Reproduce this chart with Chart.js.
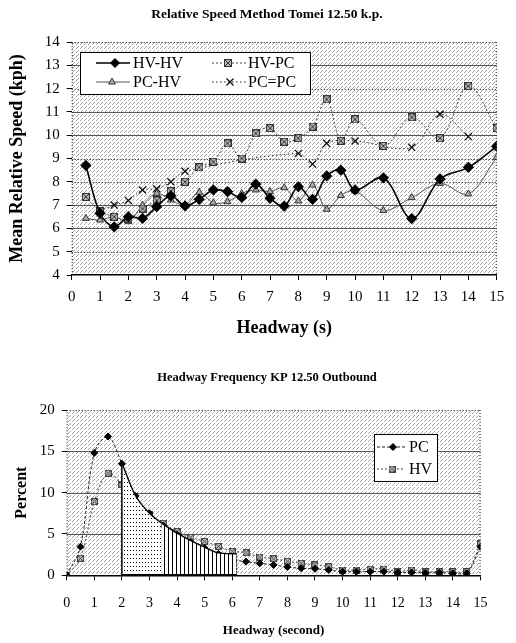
<!DOCTYPE html>
<html>
<head>
<meta charset="utf-8">
<script src="https://cdn.jsdelivr.net/npm/chart.js@4.4.0/dist/chart.umd.min.js"></script>
<style>
html, body { margin: 0; padding: 0; background: #fff; }
#wrapSpeed { position: absolute; left: 0; top: 0; width: 516px; height: 345px; }
#wrapFreq { position: absolute; left: 0; top: 345px; width: 516px; height: 298px; }
</style>
</head>
<body>
<div id="wrapSpeed"><canvas id="chartSpeed"></canvas></div>
<div id="wrapFreq"><canvas id="chartFreq"></canvas></div>
<script>
// --- top chart: relative speed by headway ---
const speedHeadway = [0.5, 1, 1.5, 2, 2.5, 3, 3.5, 4, 4.5, 5, 5.5, 6, 6.5, 7, 7.5, 8, 8.5, 9, 9.5, 10, 11, 12, 13, 14, 15];
const speedHvHv = [8.7, 6.65, 6.07, 6.5, 6.43, 6.93, 7.4, 6.97, 7.25, 7.65, 7.58, 7.33, 7.9, 7.29, 6.96, 7.79, 7.25, 8.25, 8.5, 7.65, 8.17, 6.42, 8.12, 8.62, 9.52];
const speedHvPc = [7.35, 6.75, 6.5, 6.4, 6.85, 7.2, 7.6, 8.0, 8.62, 8.86, 9.65, 9.0, 10.08, 10.3, 9.72, 9.87, 10.37, 11.54, 9.76, 10.68, 9.54, 10.77, 9.87, 12.11, 10.3];
const speedPcHv = [6.43, 6.36, 6.5, 6.29, 7.0, 7.5, 7.22, 7.0, 7.55, 7.1, 7.15, 7.5, 7.65, 7.58, 7.75, 7.18, 7.86, 6.82, 7.41, 7.6, 6.77, 7.32, 7.93, 7.48, 9.05];
const speedPcPc = [null, 6.75, 7.0, 7.2, 7.65, 7.7, 8.0, 8.45, null, null, null, null, null, null, null, 9.22, 8.76, 9.65, null, 9.75, null, 9.48, 10.9, 9.94, null];

// --- bottom chart: headway frequency ---
const freqHeadway = [0, 0.5, 1, 1.5, 2, 2.5, 3, 3.5, 4, 4.5, 5, 5.5, 6, 6.5, 7, 7.5, 8, 8.5, 9, 9.5, 10, 10.5, 11, 11.5, 12, 12.5, 13, 13.5, 14, 14.5, 15];
const freqPc = [0, 3.46, 14.8, 16.8, 13.5, 9.6, 7.5, 6.0, 4.9, 4.0, 3.3, 2.6, 1.9, 1.65, 1.45, 1.25, 1.0, 0.85, 0.78, 0.64, 0.44, 0.44, 0.44, 0.44, 0.35, 0.35, 0.3, 0.3, 0.25, 0.24, 3.46];
const freqHv = [0, 2.06, 8.9, 12.35, 10.93, 8.8, 7.3, 6.3, 5.3, 4.6, 4.1, 3.5, 2.9, 2.75, 2.2, 2.0, 1.7, 1.45, 1.25, 1.04, 0.64, 0.64, 0.76, 0.76, 0.44, 0.64, 0.44, 0.44, 0.44, 0.44, 3.8];
const shadeDotHeadway = [2, 2.5, 3, 3.44];
const shadeDotPct = [13.6, 9.6, 7.5, 6.3];
const shadeBarHeadway = [3.44, 4, 4.5, 5, 5.5, 6.16];
const shadeBarPct = [6.3, 5.1, 4.2, 3.4, 2.7, 2.6];

const FONT = "'Liberation Serif', 'Times New Roman', serif";
const pts = (xs, ys) => xs.map((x, i) => ({ x: x, y: ys[i] }));

function tile(w, h, draw) {
    const c = document.createElement('canvas');
    c.width = w; c.height = h;
    const g = c.getContext('2d');
    draw(g);
    return c;
}

// small hatched square marker
const hatchMark = tile(8, 8, g => {
    g.fillStyle = '#b8b8b8'; g.fillRect(0, 0, 8, 8);
    g.strokeStyle = '#333'; g.lineWidth = 1;
    g.strokeRect(0.5, 0.5, 7, 7);
    g.beginPath(); g.moveTo(0, 0); g.lineTo(8, 8); g.moveTo(8, 0); g.lineTo(0, 8); g.stroke();
});
const hatchMarkSmall = tile(7, 7, g => {
    g.fillStyle = '#c0c0c0'; g.fillRect(0, 0, 7, 7);
    g.strokeStyle = '#444'; g.lineWidth = 1;
    g.strokeRect(0.5, 0.5, 6, 6);
    g.beginPath(); g.moveTo(0, 0); g.lineTo(7, 7); g.moveTo(7, 0); g.lineTo(0, 7); g.stroke();
});

const stippleTile = tile(4, 4, g => {
    g.fillStyle = '#fff'; g.fillRect(0, 0, 4, 4);
    g.fillStyle = '#a8a8a8';
    g.fillRect(0, 0, 1, 1); g.fillRect(2, 2, 1, 1); g.fillRect(1, 3, 1, 1);
});
const dotTile = tile(3, 4, g => {
    g.fillStyle = '#fff'; g.fillRect(0, 0, 3, 4);
    g.fillStyle = '#000'; g.fillRect(1, 1, 1, 1);
});
const barTile = tile(4, 4, g => {
    g.fillStyle = '#fff'; g.fillRect(0, 0, 4, 4);
    g.fillStyle = '#000'; g.fillRect(0, 0, 1, 4);
});

// stippled plot background + mixed solid / dotted horizontal grid
const plotDecor = {
    id: 'plotDecor',
    beforeDraw(chart, args, o) {
        const { ctx, chartArea: a } = chart;
        ctx.save();
        ctx.fillStyle = ctx.createPattern(stippleTile, 'repeat');
        ctx.fillRect(a.left, a.top, a.right - a.left, a.bottom - a.top);
        ctx.restore();
    },
    beforeDatasetsDraw(chart, args, o) {
        const { ctx, chartArea: a, scales: { y } } = chart;
        ctx.save();
        y.ticks.forEach(t => {
            const py = Math.round(y.getPixelForValue(t.value)) + 0.5;
            if (t.value === y.min) return;
            const solid = o.solid.includes(t.value);
            ctx.strokeStyle = solid ? '#555' : '#111';
            ctx.lineWidth = 1;
            ctx.setLineDash(solid ? [] : [1, 2]);
            ctx.beginPath(); ctx.moveTo(a.left, py); ctx.lineTo(a.right, py); ctx.stroke();
        });
        ctx.setLineDash([1, 2]);
        ctx.strokeStyle = '#111';
        ctx.beginPath();
        ctx.moveTo(a.left + 0.5, a.bottom); ctx.lineTo(a.left + 0.5, a.top);
        ctx.moveTo(a.right - 0.5, a.top); ctx.lineTo(a.right - 0.5, a.bottom);
        ctx.stroke();
        ctx.restore();
    }
};

const textTitle = {
    id: 'textTitle',
    afterDraw(chart, args, o) {
        const ctx = chart.ctx;
        ctx.save();
        ctx.font = o.font;
        ctx.fillStyle = '#000';
        ctx.textAlign = 'center';
        ctx.textBaseline = 'middle';
        ctx.fillText(o.text, o.x, o.y);
        ctx.restore();
    }
};

const boxLegend = {
    id: 'boxLegend',
    afterDatasetsDraw(chart, args, o) {
        const ctx = chart.ctx;
        const [bx, by, bw, bh] = o.box;
        ctx.save();
        ctx.fillStyle = '#fff';
        ctx.fillRect(bx, by, bw, bh);
        ctx.strokeStyle = '#000'; ctx.lineWidth = 1;
        ctx.strokeRect(bx + 0.5, by + 0.5, bw, bh);
        o.items.forEach(it => {
            const ds = chart.data.datasets[it.index];
            ctx.save();
            ctx.strokeStyle = ds.borderColor;
            ctx.lineWidth = ds.borderWidth;
            ctx.setLineDash(ds.borderDash || []);
            ctx.beginPath(); ctx.moveTo(it.line[0], it.y); ctx.lineTo(it.line[1], it.y); ctx.stroke();
            ctx.restore();
            ctx.save();
            ctx.fillStyle = ds.pointBackgroundColor || '#000';
            ctx.strokeStyle = ds.pointBorderColor || ds.borderColor;
            ctx.lineWidth = ds.pointBorderWidth || 1;
            Chart.helpers.drawPoint(ctx, { pointStyle: ds.pointStyle, radius: ds.pointRadius, borderWidth: ds.pointBorderWidth || 1, rotation: 0 }, it.mark, it.y);
            ctx.restore();
            ctx.fillStyle = '#000';
            ctx.font = o.font;
            ctx.textBaseline = 'middle';
            ctx.fillText(ds.label, it.text, it.y + 1);
        });
        ctx.restore();
    }
};

Chart.defaults.font.family = FONT;
Chart.defaults.color = '#000';

new Chart(document.getElementById('chartSpeed'), {
    type: 'line',
    data: {
        datasets: [
            { label: 'HV-HV', data: pts(speedHeadway, speedHvHv), borderColor: '#000', borderWidth: 1.6, tension: 0.35,
              pointStyle: 'rectRot', pointRadius: 4.5, pointBackgroundColor: '#000', pointBorderColor: '#000' },
            { label: 'HV-PC', data: pts(speedHeadway, speedHvPc), borderColor: '#444', borderWidth: 1, borderDash: [2, 2], tension: 0.35,
              pointStyle: hatchMark, pointRadius: 4 },
            { label: 'PC-HV', data: pts(speedHeadway, speedPcHv), borderColor: '#555', borderWidth: 1, tension: 0.35,
              pointStyle: 'triangle', pointRadius: 4, pointBackgroundColor: '#aaa', pointBorderColor: '#333' },
            { label: 'PC=PC', data: pts(speedHeadway, speedPcPc), borderColor: '#222', borderWidth: 1, borderDash: [1.5, 2.5], tension: 0.35,
              spanGaps: true, pointStyle: 'crossRot', pointRadius: 5, pointBorderWidth: 1.3, pointBorderColor: '#111' }
        ]
    },
    options: {
        responsive: true,
        maintainAspectRatio: false,
        animation: false,
        layout: { padding: { left: 0, right: 19.3, top: 42, bottom: 0 } },
        plugins: {
            legend: { display: false },
            tooltip: { enabled: false },
            textTitle: { text: 'Relative Speed Method Tomei 12.50 k.p.', x: 267, y: 15, font: 'bold 13.5px ' + FONT },
            plotDecor: { solid: [6, 7, 10, 11, 13] },
            boxLegend: {
                box: [80, 52, 230, 42],
                font: '16px ' + FONT,
                items: [
                    { index: 0, y: 63, line: [96, 130], mark: 115, text: 133 },
                    { index: 1, y: 63, line: [212, 246], mark: 228, text: 248 },
                    { index: 2, y: 82, line: [96, 130], mark: 112, text: 133 },
                    { index: 3, y: 82, line: [212, 246], mark: 230, text: 248 }
                ]
            }
        },
        scales: {
            x: {
                type: 'linear', min: 0, max: 15,
                afterFit: s => { s.height = 70; },
                ticks: { stepSize: 1, padding: 8, font: { size: 15 }, maxRotation: 0 },
                grid: { drawOnChartArea: false, tickLength: 5, color: '#000' },
                border: { color: '#000', width: 1.5 },
                title: { display: true, text: 'Headway (s)', font: { size: 18, weight: 'bold' }, padding: { top: 0, bottom: 6 } }
            },
            y: {
                min: 4, max: 14,
                afterFit: s => { s.width = 71.7; },
                ticks: { stepSize: 1, padding: 7, font: { size: 15 } },
                grid: { drawOnChartArea: false, tickLength: 5, color: '#000' },
                border: { display: false },
                title: { display: true, text: 'Mean Relative Speed (kph)', font: { size: 18, weight: 'bold' }, padding: { top: 7, bottom: 0 } }
            }
        }
    },
    plugins: [plotDecor, textTitle, boxLegend]
});

const freqCanvas = document.getElementById('chartFreq');
const fctx = freqCanvas.getContext('2d');

new Chart(freqCanvas, {
    type: 'line',
    data: {
        datasets: [
            { label: 'PC', data: pts(freqHeadway, freqPc), borderColor: '#222', borderWidth: 1, borderDash: [3, 2], tension: 0.35,
              pointStyle: 'rectRot', pointRadius: 3.5, pointBackgroundColor: '#000', pointBorderColor: '#000', order: 5 },
            { label: 'HV', data: pts(freqHeadway, freqHv), borderColor: '#444', borderWidth: 1, borderDash: [2, 2], tension: 0.35,
              pointStyle: hatchMarkSmall, pointRadius: 3.5, order: 6 },
            { label: 'shade-dots', data: pts(shadeDotHeadway, shadeDotPct), borderColor: '#000', borderWidth: 1.3, tension: 0.3,
              fill: 'origin', backgroundColor: fctx.createPattern(dotTile, 'repeat'), pointRadius: 0, order: 1 },
            { label: 'shade-bars', data: pts(shadeBarHeadway, shadeBarPct), borderColor: '#000', borderWidth: 1.3, tension: 0.3,
              fill: 'origin', backgroundColor: fctx.createPattern(barTile, 'repeat'), pointRadius: 0, order: 1 },
            { label: 'edge-left', data: [{ x: shadeDotHeadway[0], y: 0 }, { x: shadeDotHeadway[0], y: shadeDotPct[0] }],
              borderColor: '#000', borderWidth: 1.5, pointRadius: 0, order: 0 },
            { label: 'edge-right', data: [{ x: shadeBarHeadway[5], y: 0 }, { x: shadeBarHeadway[5], y: shadeBarPct[5] }],
              borderColor: '#000', borderWidth: 1, borderDash: [1, 2], pointRadius: 0, order: 0 },
            { label: 'edge-base', data: [{ x: shadeDotHeadway[0], y: 0 }, { x: shadeBarHeadway[5], y: 0 }],
              borderColor: '#000', borderWidth: 2.5, pointRadius: 0, order: 0 }
        ]
    },
    options: {
        responsive: true,
        maintainAspectRatio: false,
        animation: false,
        layout: { padding: { left: 0, right: 35.5, top: 65, bottom: 0 } },
        plugins: {
            legend: { display: false },
            tooltip: { enabled: false },
            textTitle: { text: 'Headway Frequency KP 12.50 Outbound', x: 267, y: 33, font: 'bold 12.5px ' + FONT },
            plotDecor: { solid: [5, 10, 15] },
            boxLegend: {
                box: [374, 89, 63, 47],
                font: '16px ' + FONT,
                items: [
                    { index: 0, y: 102, line: [377, 405], mark: 393, text: 409 },
                    { index: 1, y: 124, line: [377, 405], mark: 392, text: 409 }
                ]
            }
        },
        scales: {
            x: {
                type: 'linear', min: 0, max: 15,
                afterFit: s => { s.height = 67.7; },
                ticks: { stepSize: 1, padding: 15, font: { size: 14 }, maxRotation: 0 },
                grid: { drawOnChartArea: false, tickLength: 5, color: '#000' },
                border: { color: '#000', width: 1.5 },
                title: { display: true, text: 'Headway (second)', font: { size: 13, weight: 'bold' }, padding: { top: 0, bottom: 5 } }
            },
            y: {
                min: 0, max: 20,
                afterFit: s => { s.width = 66.7; },
                ticks: { stepSize: 5, padding: 7, font: { size: 15 } },
                grid: { drawOnChartArea: false, tickLength: 5, color: '#000' },
                border: { display: false },
                title: { display: true, text: 'Percent', font: { size: 16, weight: 'bold' }, padding: { top: 12, bottom: 0 } }
            }
        }
    },
    plugins: [plotDecor, textTitle, boxLegend]
});
</script>
</body>
</html>
